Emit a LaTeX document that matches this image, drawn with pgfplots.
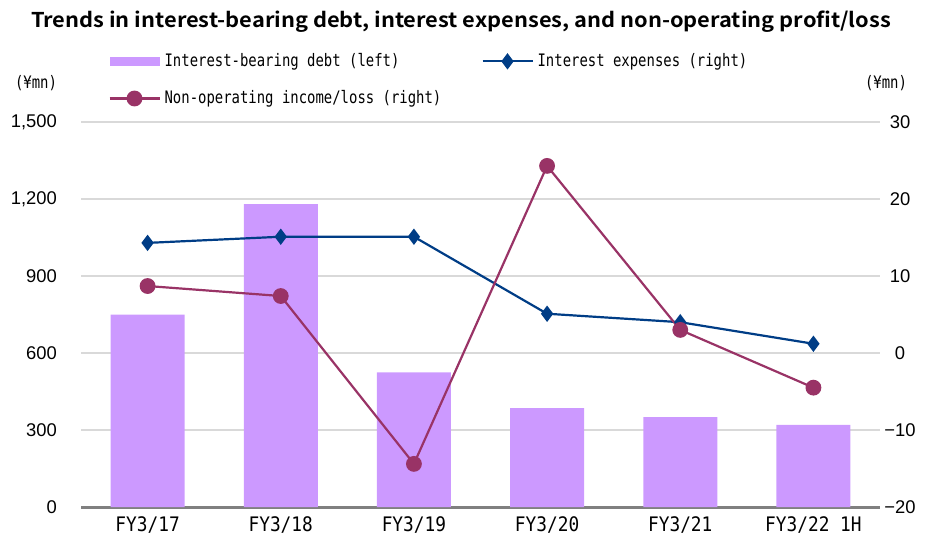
\documentclass[border=0pt]{standalone}
\usepackage{pgfplots}
\pgfplotsset{compat=1.18}
\usepackage{fontspec}
\setmainfont{Liberation Sans}
\newfontfamily\jp[FakeStretch=0.81]{DejaVu Sans Mono}
\newfontfamily\jpx[FakeStretch=0.89]{DejaVu Sans Mono}
\newfontfamily\jpb[FakeStretch=1.07]{Noto Sans CJK JP Bold}
\definecolor{barc}{RGB}{204,153,255}
\definecolor{bluec}{RGB}{0,61,134}
\definecolor{marc}{RGB}{153,51,102}
\definecolor{gridc}{RGB}{217,217,217}
\definecolor{axc}{RGB}{128,128,128}
\pgfplotstableread{
x debt
0 750
1 1180
2 525
3 385
4 350
5 320
}\debt
\pgfplotstableread{
x ie no
0 14.3 8.7
1 15.1 7.4
2 15.1 -14.4
3 5.1 24.3
4 4.0 3.0
5 1.2 -4.5
}\lines
\begin{document}
\begin{tikzpicture}
\useasboundingbox (0pt,0pt) rectangle (463.5pt,268.5pt);
\node[font=\jpb\fontsize{10.2}{12}\selectfont] at (230.5pt,257.5pt) {Trends in interest-bearing debt, interest expenses, and non-operating profit/loss};
\node[font=\jp\fontsize{8.6}{9}\selectfont] at (18pt,227pt) {(¥mn)};
\node[font=\jp\fontsize{8.6}{9}\selectfont] at (443pt,227pt) {(¥mn)};
\begin{axis}[
  at={(40.5pt,15pt)}, anchor=south west,
  scale only axis, width=399.5pt, height=192.5pt,
  xmin=-0.5, xmax=5.5, ymin=0, ymax=1500,
  ytick={0,300,...,1500},
  yticklabel style={font=\fontsize{9.2}{10}\selectfont, xshift=-8.5pt},
  /pgf/number format/assume math mode=true,
  /pgf/number format/1000 sep={,},
  ymajorgrids, grid style={gridc, line width=0.6pt},
  axis x line*=bottom, axis y line*=left,
  y axis line style={draw=none},
  ytick style={draw=none},
  xtick={0,...,5},
  xticklabels={FY3/17,FY3/18,FY3/19,FY3/20,FY3/21,FY3/22 1H},
  xticklabel style={font=\jpx\fontsize{10}{11}\selectfont, yshift=-1.5pt},
  extra x ticks={-0.5,0.5,...,5.5},
  extra x tick labels={},
  extra x tick style={grid=none, tick style={draw=axc, line width=1pt}, major tick length=3.5pt, tick align=outside},
  major x tick style={draw=none},
  x axis line style={draw=axc, line width=1.5pt, -},
  clip=false,
  legend columns=2,
  legend style={at={(0.0338,1.19)}, anchor=north west, draw=none, fill=none, inner sep=0pt,
    font=\jp\fontsize{8.6}{9}\selectfont,
    /tikz/every even column/.append style={column sep=18pt},
    row sep=6.5pt},
  legend cell align=left,
]
\addplot[ybar, bar width=37pt, fill=barc, draw=none,
  legend image code/.code={\fill[barc] (0pt,-2.3pt) rectangle (25pt,2.3pt);}]
  table[x=x,y=debt]{\debt};
\addlegendentry{Interest-bearing debt (left)}
\addlegendimage{bluec, legend image code/.code={\draw[bluec, line width=1.1pt, mark=diamond*, mark size=3.2pt, mark repeat=2, mark phase=2] plot coordinates {(0pt,0pt)(12.5pt,0pt)(25pt,0pt)};}}
\addlegendentry{Interest expenses (right)}
\addlegendimage{marc, legend image code/.code={\draw[marc, line width=1.1pt, mark=*, mark size=3.4pt, mark repeat=2, mark phase=2] plot coordinates {(0pt,0pt)(12.5pt,0pt)(25pt,0pt)};}}
\addlegendentry{Non-operating income/loss (right)}
\end{axis}
\begin{axis}[
  at={(40.5pt,15pt)}, anchor=south west,
  scale only axis, width=399.5pt, height=192.5pt,
  xmin=-0.5, xmax=5.5, ymin=-20, ymax=30,
  ytick={-20,-10,0,10,20,30},
  yticklabels={−20,−10,0,10,20,30},
  axis y line*=right, axis x line=none,
  y axis line style={draw=none},
  ytick style={draw=none},
  yticklabel style={font=\fontsize{9.2}{10}\selectfont, anchor=center, xshift=10pt},
  clip=false,
]
\addplot[bluec, line width=1.1pt, mark=diamond*, mark size=3.2pt] table[x=x,y=ie]{\lines};
\addplot[marc, line width=1.1pt, mark=*, mark size=3.4pt] table[x=x,y=no]{\lines};
\end{axis}
\end{tikzpicture}
\end{document}
